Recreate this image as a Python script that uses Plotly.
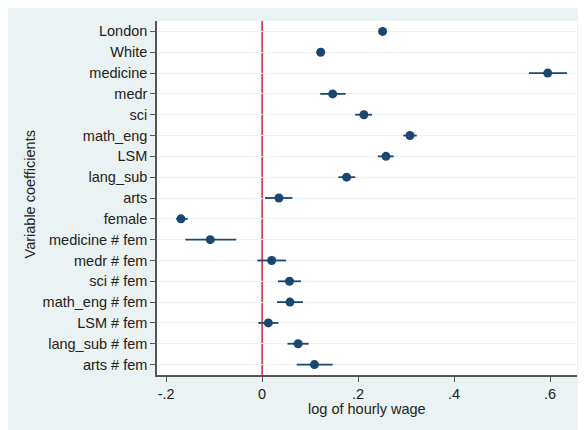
import plotly.graph_objects as go

variables = ["London", "White", "medicine", "medr", "sci", "math_eng", "LSM", "lang_sub",
             "arts", "female", "medicine # fem", "medr # fem", "sci # fem",
             "math_eng # fem", "LSM # fem", "lang_sub # fem", "arts # fem"]
coef = [0.251, 0.122, 0.595, 0.147, 0.212, 0.308, 0.258, 0.176,
        0.035, -0.169, -0.108, 0.020, 0.057, 0.058, 0.013, 0.075, 0.109]
ci_low = [0.249, 0.119, 0.556, 0.121, 0.194, 0.294, 0.241, 0.159,
          0.006, -0.179, -0.160, -0.010, 0.033, 0.031, -0.008, 0.053, 0.072]
ci_high = [0.253, 0.125, 0.635, 0.174, 0.229, 0.322, 0.274, 0.194,
           0.063, -0.155, -0.054, 0.050, 0.081, 0.085, 0.034, 0.097, 0.147]
x_ticks = [-0.2, 0, 0.2, 0.4, 0.6]
x_ticktext = ["-.2", "0", ".2", ".4", ".6"]

navy = "#1a476f"
bg = "#eaf2f3"
font_family = "Liberation Sans, Arial, sans-serif"
fs = 14.5

fig = go.Figure()
fig.add_trace(go.Scatter(
    x=coef, y=variables, mode="markers",
    marker=dict(color=navy, size=9),
    error_x=dict(type="data", symmetric=False,
                 array=[h - c for h, c in zip(ci_high, coef)],
                 arrayminus=[c - l for c, l in zip(coef, ci_low)],
                 color=navy, thickness=1.8, width=0),
    showlegend=False,
))

# page body has an 8px margin, so the figure is drawn offset by (8, 8)
OFF = 8
W, H = 586 - OFF, 430 - OFF
L, R, T, B = 157 - OFF, 9, 21 - OFF, 55
pw, ph = W - L - R, H - T - B

fig.add_shape(type="line", xref="x", yref="paper", x0=0, x1=0, y0=0, y1=1,
              line=dict(color="#dc1e3c", width=1.5), layer="below")

fig.add_annotation(text="Variable coefficients", xref="paper", yref="paper",
                   x=(30 - 157) / pw, y=0.51, textangle=-90, showarrow=False,
                   xanchor="center", yanchor="middle",
                   font=dict(family=font_family, size=fs, color="#222"))
fig.add_annotation(text="log of hourly wage", xref="paper", yref="paper",
                   x=0.5, y=-(409 - 375) / ph, showarrow=False,
                   xanchor="center", yanchor="middle",
                   font=dict(family=font_family, size=fs, color="#222"))

fig.update_layout(
    width=W, height=H,
    margin=dict(l=L, r=R, t=T, b=B),
    paper_bgcolor=bg, plot_bgcolor="white",
    font=dict(family=font_family, size=fs, color="#222"),
    xaxis=dict(range=[-0.219, 0.656], tickvals=x_ticks, ticktext=x_ticktext,
               showgrid=False, zeroline=False, showline=True, linecolor="#555",
               linewidth=1.5, ticks="outside", ticklen=5, tickcolor="#555",
               tickfont=dict(size=fs, color="#222")),
    yaxis=dict(type="category", categoryorder="array", categoryarray=variables,
               range=[16.5, -0.5], showgrid=True, gridcolor=bg, gridwidth=1.2,
               zeroline=False, showline=True, linecolor="#555", linewidth=1.5,
               ticks="outside", ticklen=5, tickcolor="#555",
               tickfont=dict(size=fs, color="#222")),
)

fig.write_html("out.html")
